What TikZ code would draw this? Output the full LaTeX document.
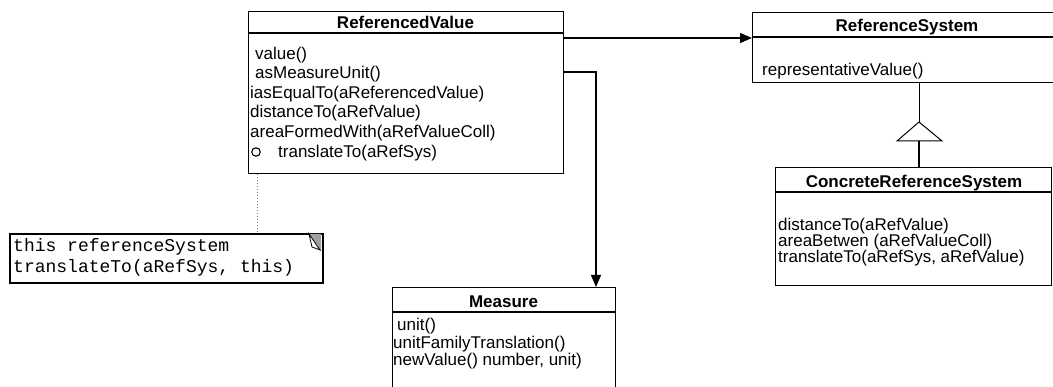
\documentclass[tikz,border=0pt]{standalone}
\usepackage{fontspec}
\setmainfont{Liberation Sans}
\newfontfamily\notefont{Liberation Mono}
\usetikzlibrary{arrows.meta}

\tikzset{
  x=1pt, y=-1pt,
  classbox/.style={draw=black, line width=1.3pt, fill=white, inner sep=0pt, anchor=north west},
  sepline/.style={line width=1.8pt},
  title/.style={font=\fontsize{17}{19}\selectfont\bfseries, inner sep=0pt, anchor=base},
  member/.style={font=\fontsize{17}{19}\selectfont, inner sep=0pt, anchor=base west},
  notetext/.style={font=\fontsize{18}{21}\notefont, inner sep=0pt, anchor=base west},
  assoc/.style={line width=1.2pt, -{Triangle[length=12pt,width=10pt]}},
  notebox/.style={draw=black, line width=1.6pt, fill=white, inner sep=0pt, anchor=north west},
}

\begin{document}
\begin{tikzpicture}
\clip (0,0) rectangle (1053,387);
\fill[white] (0,0) rectangle (1053,387);

% ---------- ReferencedValue ----------
\node[classbox, minimum width=315pt, minimum height=162pt] (rv) at (248,11) {};
\draw[sepline] (248,33) -- (563,33);
\node[title] (rvt) at (405.5,29) {ReferencedValue};
\node[member] (rv1) at (255,60) {value()};
\node[member] (rv2) at (255,79) {asMeasureUnit()};
\node[member] (rv3) at (250,99) {iasEqualTo(aReferencedValue)};
\node[member] (rv4) at (250,118) {distanceTo(aRefValue)};
\node[member] (rv5) at (250,138) {areaFormedWith(aRefValueColl)};
\node[member] (rv6) at (278,158) {translateTo(aRefSys)};
\node[draw=black, line width=1.1pt, circle, minimum size=8.5pt, inner sep=0pt] (rvc) at (256,152) {};

% ---------- ReferenceSystem ----------
\node[classbox, minimum width=310pt, minimum height=70pt] (rs) at (752,12) {};
\draw[sepline] (752,37) -- (1062,37);
\node[title] (rst) at (907,32) {ReferenceSystem};
\node[member] (rs1) at (762,76) {representativeValue()};

% ---------- ConcreteReferenceSystem ----------
\node[classbox, minimum width=276pt, minimum height=118pt] (crs) at (775,167) {};
\draw[sepline] (775,192) -- (1051,192);
\node[title] (crst) at (914,188) {ConcreteReferenceSystem};
\node[member] (crs1) at (778,231) {distanceTo(aRefValue)};
\node[member] (crs2) at (778,247) {areaBetwen (aRefValueColl)};
\node[member] (crs3) at (778,263) {translateTo(aRefSys, aRefValue)};

% ---------- Measure ----------
\node[classbox, minimum width=223pt, minimum height=120pt] (ms) at (392,287) {};
\draw[sepline] (392,312) -- (615,312);
\node[title] (mst) at (503.5,308) {Measure};
\node[member] (ms1) at (397,331) {unit()};
\node[member] (ms2) at (393,349) {unitFamilyTranslation()};
\node[member] (ms3) at (393,366) {newValue() number, unit)};

% ---------- note ----------
\node[notebox, minimum width=313pt, minimum height=49pt] (nt) at (9,233) {};
\node[notetext] (nt1) at (13,252) {this referenceSystem};
\node[notetext] (nt2) at (13,273) {translateTo(aRefSys, this)};
% folded corner of the note
\fill[gray!75] (309,234) -- (321,234) -- (321,251) -- cycle;
\draw[line width=0.8pt, fill=white] (309,234) -- (312,247) -- (320,250) -- cycle;

% ---------- connectors ----------
\coordinate (ya) at (0,38);
\coordinate (yb) at (0,72);
\coordinate (xb) at (596,0);
\draw[assoc] (rv.east |- ya) -- (rs.west |- ya);
\draw[assoc] (rv.east |- yb) -- (xb |- yb) -- (xb |- ms.north);

% note anchor
\coordinate (xn) at (257,0);
\draw[gray, dotted, line width=1pt] (xn |- rv.south) -- (xn |- nt.north);

% generalization
\coordinate (xg) at (919,0);
\coordinate (apex) at (919,122);
\coordinate (bl) at (897,141);
\coordinate (br) at (942,141);
\draw[line width=0.8pt] (xg |- rs.south) -- (apex);
\draw[line width=1pt, fill=white] (apex) -- (br) -- (bl) -- cycle;
\draw[line width=2pt] (xg |- bl) -- (xg |- crs.north);
\end{tikzpicture}
\end{document}
